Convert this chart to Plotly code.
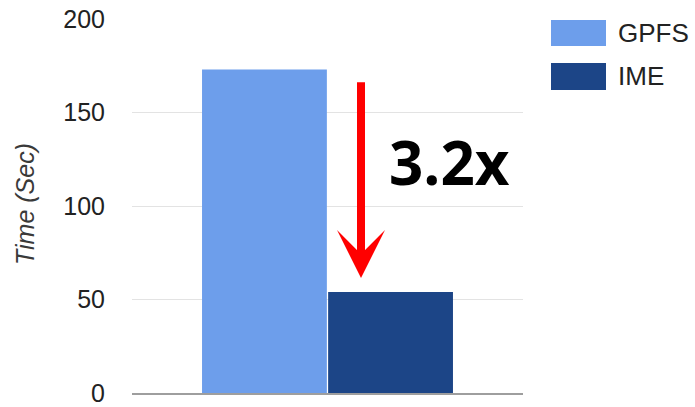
import plotly.graph_objects as go

# ---- data ----
categories = [""]
series_names = ["GPFS", "IME"]
gpfs_values = [173]
ime_values = [54]
series_colors = ["#6d9eeb", "#1c4587"]
y_ticks = [0, 50, 100, 150, 200]
speedup_label = "3.2x"

W, H = 695, 407
L, R, T, B = 132, 172, 19, 14
PW, PH = W - L - R, H - T - B


def px_x(px):
    return (px - L) / PW


def px_y(py):
    return (H - B - py) / PH


fig = go.Figure()
fig.add_trace(go.Bar(x=categories, y=gpfs_values, name=series_names[0],
                     marker=dict(color=series_colors[0], line=dict(width=0))))
fig.add_trace(go.Bar(x=categories, y=ime_values, name=series_names[1],
                     marker=dict(color=series_colors[1], line=dict(width=0))))

shapes = []
annotations = []

# custom legend
legend_rows = [(20, 46), (63, 90)]
for name, color, (top, bot) in zip(series_names, series_colors, legend_rows):
    shapes.append(dict(type="rect", xref="paper", yref="paper",
                       x0=px_x(551), x1=px_x(606), y0=px_y(bot), y1=px_y(top),
                       fillcolor=color, line=dict(width=0)))
    annotations.append(dict(text=name, xref="paper", yref="paper",
                            x=px_x(616), y=px_y((top + bot) / 2),
                            xanchor="left", yanchor="middle", showarrow=False,
                            font=dict(family="Liberation Sans, Arial", size=26, color="#222222")))

# y axis title
annotations.append(dict(text="<i>Time (Sec)</i>", xref="paper", yref="paper",
                        x=px_x(25), y=px_y(204), textangle=-90,
                        xanchor="center", yanchor="middle", showarrow=False,
                        font=dict(family="Liberation Sans, Arial", size=25, color="#3a3a3a")))

# red arrow (GPFS -> IME)
arrow_x = px_x(361) - 0.5
annotations.append(dict(text="", x=arrow_x, y=ime_values[0] + 7.5, xref="x", yref="y",
                        ax=arrow_x, ay=gpfs_values[0] - 6, axref="x", ayref="y",
                        showarrow=True, arrowhead=3, arrowsize=1.0, arrowwidth=8,
                        arrowcolor="#ff0000"))

# speedup label
annotations.append(dict(text="<b>" + speedup_label + "</b>", xref="paper", yref="paper",
                        x=px_x(449), y=px_y(162), xanchor="center", yanchor="middle",
                        showarrow=False,
                        font=dict(family="Open Sans", size=60, color="#000000")))

fig.update_layout(
    width=W, height=H,
    margin=dict(l=L, r=R, t=T, b=B, pad=0, autoexpand=False),
    paper_bgcolor="white", plot_bgcolor="white",
    barmode="group", bargap=0.355, bargroupgap=0.01,
    showlegend=False,
    shapes=shapes, annotations=annotations,
    xaxis=dict(showticklabels=False, showgrid=False, zeroline=False, automargin=False,
               showline=True, linecolor="#9e9e9e", linewidth=2, ticks=""),
    yaxis=dict(range=[0, 200], tickvals=y_ticks, showgrid=True, automargin=False,
               gridcolor="#e3e3e3", gridwidth=1, zeroline=False, showline=False,
               ticks="", ticklabelstandoff=26, ticklabeloverflow="allow",
               tickfont=dict(family="Liberation Sans, Arial", size=25, color="#222222")),
)

fig.write_html("out.html")
